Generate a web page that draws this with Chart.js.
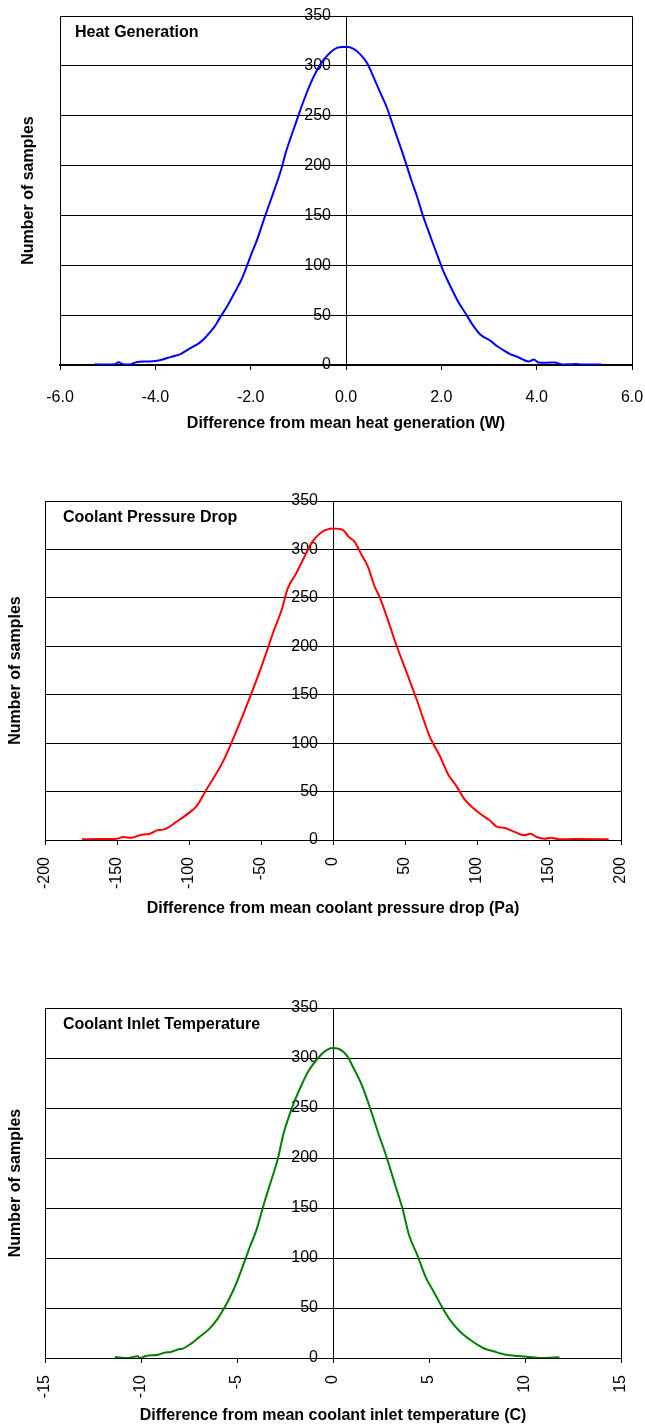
<!DOCTYPE html>
<html>
<head>
<meta charset="utf-8">
<script src="https://cdn.jsdelivr.net/npm/chart.js@4.4.1/dist/chart.umd.min.js"></script>
<style>
  html, body { margin: 0; padding: 0; background: #fff; }
  body { width: 645px; height: 1427px; position: relative; overflow: hidden; }
  canvas { position: absolute; left: 0; }
</style>
</head>
<body>
<canvas id="heatChart" width="645" height="445" style="top:0px"></canvas>
<canvas id="pressChart" width="645" height="460" style="top:470px"></canvas>
<canvas id="tempChart" width="645" height="452" style="top:975px"></canvas>
<script>
// --- data ---
const heatX = [-5.27, -5.0, -4.85, -4.77, -4.68, -4.55, -4.38, -4.2, -4.0, -3.85, -3.73, -3.6, -3.47, -3.35, -3.26, -3.08, -2.97, -2.87, -2.75, -2.65, -2.48, -2.31, -2.2, -2.09, -1.98, -1.87, -1.7, -1.53, -1.36, -1.27, -1.16, -1.05, -0.88, -0.71, -0.58, -0.49, -0.4, -0.32, -0.19, -0.08, 0.05, 0.16, 0.29, 0.44, 0.53, 0.63, 0.74, 0.85, 0.96, 1.06, 1.17, 1.28, 1.38, 1.49, 1.62, 1.71, 1.8, 1.91, 2.01, 2.12, 2.23, 2.36, 2.53, 2.66, 2.83, 2.93, 3.01, 3.18, 3.3, 3.44, 3.55, 3.65, 3.76, 3.83, 3.94, 4.04, 4.2, 4.39, 4.5, 4.56, 4.7, 4.82, 4.95, 5.08, 5.2, 5.36];
const heatY = [0.7, 0.5, 0.8, 2.7, 0.8, 0.5, 3.0, 3.5, 4.0, 5.5, 7.3, 9, 11, 14.5, 17, 22, 26.5, 32, 39, 47, 60, 75, 85, 98, 112, 125, 149, 172, 196, 212, 228, 243, 266, 286, 298, 305, 310, 314, 318, 319, 319, 317, 312, 303, 294, 283, 271, 259, 244, 230, 215, 199, 184, 169, 149, 137, 125, 111, 98, 86, 75, 63, 50, 40, 30, 27, 25, 18.5, 15, 11, 9, 7, 4.5, 3.5, 5.5, 2.5, 2.3, 2.5, 1, 0.5, 0.7, 1, 0.6, 0.6, 0.5, 0.6];

const pressX = [-174.3, -162.9, -150, -145.7, -140, -134.3, -127, -121.4, -117, -108.6, -100, -94.3, -88.6, -81.4, -75.7, -68.6, -62.9, -57, -51.4, -45.7, -41.4, -35.7, -31.4, -25.7, -20, -14.3, -8.6, 0, 7, 10.9, 14.9, 20, 24.3, 28.6, 32.9, 38.6, 44.3, 51.4, 58.6, 67.1, 74.3, 80, 85.7, 91.4, 97.1, 102.9, 108.6, 114.3, 118.6, 125.7, 132.9, 137.1, 141.4, 147.1, 151.4, 157, 168.6, 191.4];
const pressY = [0.7, 1, 1.4, 3, 2.4, 5, 6.5, 10.3, 11, 18.9, 28, 35.7, 50.4, 67.6, 83, 107, 127.6, 150, 172, 196, 215, 237.4, 259.7, 275, 292, 308, 317, 321.5, 320, 313, 308, 294, 282, 263, 249, 225, 200, 172, 143, 107, 86.5, 67.6, 55.6, 41.9, 33.3, 26.4, 20.6, 13.4, 12.7, 8.6, 4.8, 6.5, 3.1, 1.4, 2.4, 0.7, 1, 0.7];

const tempX = [-11.36, -10.7, -10.18, -10.03, -9.75, -9.1, -8.79, -8.46, -8.04, -7.82, -7.39, -6.96, -6.43, -6.0, -5.68, -5.36, -5.04, -4.71, -4.39, -3.96, -3.64, -3.21, -2.89, -2.57, -2.14, -1.71, -1.29, -0.86, -0.43, -0.04, 0.32, 0.75, 1.07, 1.5, 1.93, 2.36, 2.79, 3.21, 3.64, 3.96, 4.39, 4.82, 5.25, 5.68, 6.11, 6.64, 7.18, 7.82, 8.36, 9.0, 9.64, 10.29, 10.93, 11.79];
const tempY = [1, 0, 1.7, 0, 2, 3.3, 5.3, 6, 8.7, 9.4, 14.4, 21, 29.4, 39.4, 49.4, 61, 74.5, 91.2, 108, 129.6, 151.3, 178, 198, 224.8, 250, 270, 286.6, 298, 306.6, 310, 309, 301.6, 290, 273, 250, 224.8, 201, 174.7, 148, 123, 102.9, 81.2, 66, 51, 37.7, 26, 17.7, 10, 6.7, 3.3, 2, 1, 0, 0.7];

const yTickMin = 0, yTickMax = 350, yTickStep = 50;

const FONT = '"Liberation Sans", Arial, sans-serif';

// top and right edges of the plot box plus the caption inside it
const plotFrame = {
    id: 'plotFrame',
    beforeDatasetsDraw(chart, args, opts) {
        const { ctx, chartArea: a } = chart;
        ctx.save();
        ctx.strokeStyle = '#000';
        ctx.lineWidth = 1;
        ctx.beginPath();
        ctx.moveTo(Math.round(a.left) + 0.5, Math.round(a.top) + 0.5);
        ctx.lineTo(Math.round(a.right) + 0.5, Math.round(a.top) + 0.5);
        ctx.lineTo(Math.round(a.right) + 0.5, Math.round(a.bottom) + 0.5);
        ctx.stroke();
        ctx.font = 'bold 16px ' + FONT;
        ctx.fillStyle = '#000';
        ctx.textBaseline = 'alphabetic';
        ctx.fillText(opts.caption, a.left + opts.dx, a.top + opts.dy);
        ctx.restore();
    }
};

function makeChart(id, s) {
    const H = document.getElementById(id).height;
    // labels of the centre axis sit ~15px left of the x = 0 line
    const labelAt = -15 * (s.xMax - s.xMin) / (s.right - s.left);
    return new Chart(document.getElementById(id), {
        type: 'scatter',
        data: {
            datasets: [{
                data: s.xs.map((x, i) => ({ x: x, y: s.ys[i] })),
                showLine: true,
                borderColor: s.color,
                borderWidth: 2,
                pointRadius: 0,
                cubicInterpolationMode: 'monotone',
                yAxisID: 'y'
            }]
        },
        options: {
            responsive: false,
            animation: false,
            devicePixelRatio: 1,
            layout: { padding: { top: s.top, right: 645 - s.right, left: 0, bottom: 0 } },
            plugins: {
                legend: { display: false },
                tooltip: { enabled: false },
                plotFrame: { caption: s.caption, dx: s.capDx, dy: s.capDy }
            },
            scales: {
                x: {
                    type: 'linear',
                    position: 'bottom',
                    min: s.xMin, max: s.xMax,
                    afterBuildTicks: sc => { sc.ticks = s.xTicks.map(v => ({ value: v })); },
                    afterFit: sc => { sc.height = H - s.bottom; sc.paddingLeft = 0; sc.paddingRight = 0; },
                    grid: {
                        drawOnChartArea: true, drawTicks: true, tickLength: 5, tickColor: '#000',
                        color: c => (c.tick && c.tick.value === 0) ? '#000' : 'rgba(0,0,0,0)'
                    },
                    border: { display: true, color: '#000', width: s.baseWidth },
                    ticks: {
                        color: '#000', font: { family: FONT, size: 16 },
                        padding: s.tickPad, autoSkip: false,
                        minRotation: s.rot, maxRotation: s.rot,
                        callback: v => v.toFixed(s.decimals)
                    },
                    title: {
                        display: true, text: s.xTitle, color: '#000',
                        font: { family: FONT, size: 16, weight: 'bold' },
                        padding: { top: 0, bottom: s.xTitlePad }
                    }
                },
                y: {
                    type: 'linear',
                    position: 'left',
                    min: yTickMin, max: yTickMax,
                    ticks: { display: false, stepSize: yTickStep },
                    afterFit: sc => { sc.width = s.left; sc.paddingTop = 0; sc.paddingBottom = 0; },
                    grid: { color: '#000', lineWidth: 1, drawTicks: false },
                    border: { display: true, color: '#000', width: 1 },
                    title: {
                        display: true, text: 'Number of samples', color: '#000',
                        font: { family: FONT, size: 16, weight: 'bold' },
                        padding: { top: s.yTitlePad, bottom: 0 }
                    }
                },
                // short tick marks on the left of the x = 0 line
                yMarks: {
                    type: 'linear',
                    position: { x: 0 },
                    min: yTickMin, max: yTickMax,
                    afterFit: sc => { sc.width = 0; sc.paddingTop = 0; sc.paddingBottom = 0; },
                    grid: { drawOnChartArea: false, drawTicks: true, tickLength: 4, color: '#000' },
                    border: { display: false },
                    ticks: { stepSize: yTickStep, display: false }
                },
                // value labels of the centre axis
                yLabels: {
                    type: 'linear',
                    position: { x: labelAt },
                    min: yTickMin, max: yTickMax,
                    afterFit: sc => { sc.width = 0; sc.paddingTop = 0; sc.paddingBottom = 0; },
                    grid: { display: false },
                    border: { display: false },
                    ticks: { stepSize: yTickStep, color: '#000', font: { family: FONT, size: 16 }, padding: 0 }
                }
            }
        },
        plugins: [plotFrame]
    });
}

makeChart('heatChart', {
    xs: heatX, ys: heatY, color: '#0000ff',
    caption: 'Heat Generation', capDx: 15, capDy: 21,
    xTitle: 'Difference from mean heat generation (W)',
    xMin: -6, xMax: 6, xTicks: [-6, -4, -2, 0, 2, 4, 6], decimals: 1, rot: 0,
    left: 60, top: 16, right: 632, bottom: 365,
    tickPad: 18, xTitlePad: 12, yTitlePad: 19, baseWidth: 2
});

makeChart('pressChart', {
    xs: pressX, ys: pressY, color: '#ff0000',
    caption: 'Coolant Pressure Drop', capDx: 18, capDy: 21,
    xTitle: 'Difference from mean coolant pressure drop (Pa)',
    xMin: -200, xMax: 200, xTicks: [-200, -150, -100, -50, 0, 50, 100, 150, 200], decimals: 0, rot: 90,
    left: 45, top: 31, right: 621, bottom: 370,
    tickPad: 12, xTitlePad: 12, yTitlePad: 6, baseWidth: 1
});

makeChart('tempChart', {
    xs: tempX, ys: tempY, color: '#008000',
    caption: 'Coolant Inlet Temperature', capDx: 18, capDy: 21,
    xTitle: 'Difference from mean coolant inlet temperature (C)',
    xMin: -15, xMax: 15, xTicks: [-15, -10, -5, 0, 5, 10, 15], decimals: 0, rot: 90,
    left: 45, top: 33, right: 621, bottom: 383,
    tickPad: 12, xTitlePad: 1.5, yTitlePad: 6, baseWidth: 1
});
</script>
</body>
</html>
